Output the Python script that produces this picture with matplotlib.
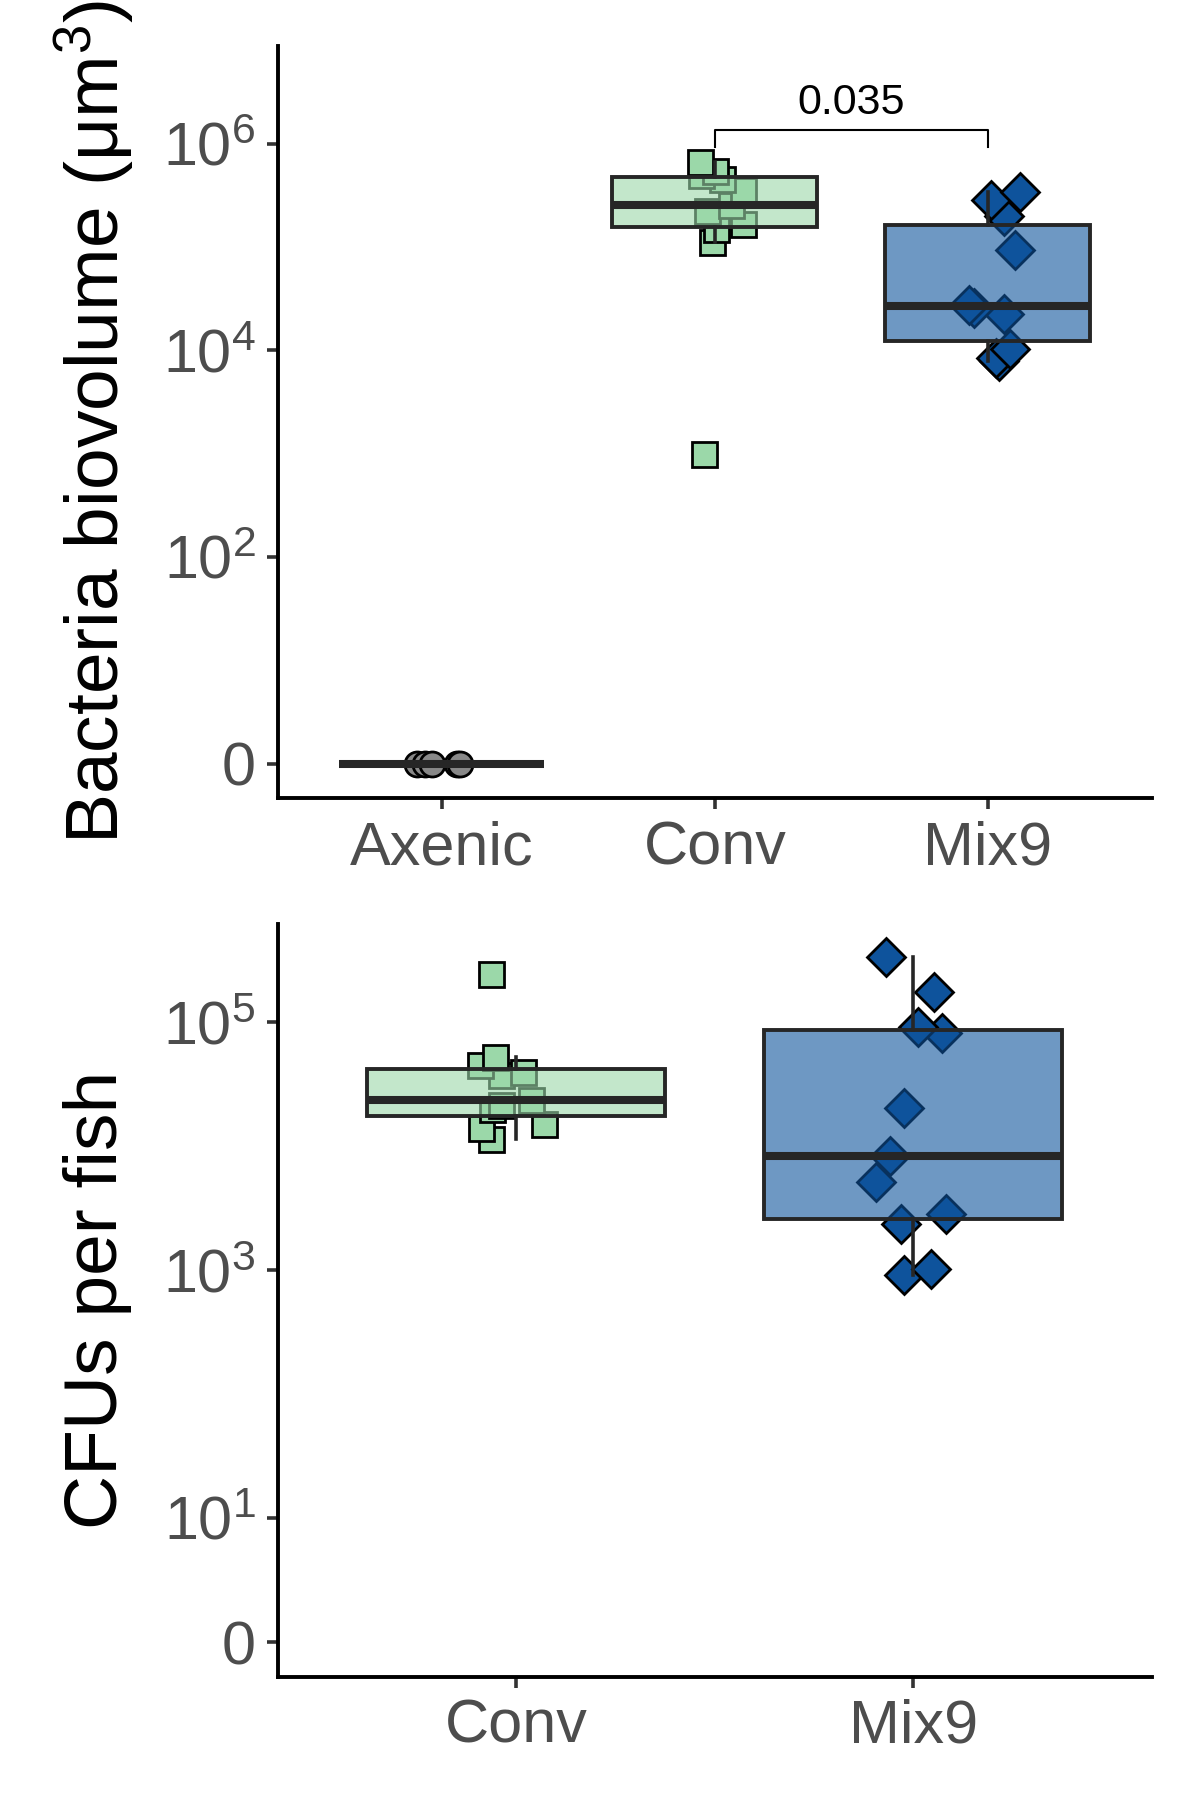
import matplotlib
matplotlib.use("Agg")
import matplotlib.pyplot as plt
import numpy as np
from matplotlib import cbook

plt.rcParams['font.family'] = ['Liberation Sans', 'DejaVu Sans']
plt.rcParams['mathtext.fontset'] = 'custom'
plt.rcParams['mathtext.rm'] = 'Liberation Sans'
plt.rcParams['mathtext.it'] = 'Liberation Sans:italic'

# ---- data ----
top_groups = ["Axenic", "Conv", "Mix9"]
axenic_vol = [0, 0, 0, 0, 0]
axenic_jit = [-0.09, -0.06, -0.035, 0.055, 0.066]
conv_vol = [1000, 112200, 147900, 166000, 223900, 257000, 354800, 457100, 501200, 549500, 660700]
conv_jit = [-0.04, -0.012, 0.006, 0.104, -0.03, 0.06, 0.104, 0.028, -0.05, 0.0, -0.056]
mix9_vol = [7940, 8510, 10200, 22400, 25700, 27500, 93300, 199500, 288400, 338800]
mix9_jit = [0.04, 0.03, 0.08, 0.06, -0.05, -0.07, 0.10, 0.06, 0.01, 0.116]
pval_label = "0.035"
pval_y = 1.37e6
pval_tip = 9.3e5

bot_groups = ["Conv", "Mix9"]
conv_cfu = [11500, 14100, 15100, 20000, 21400, 23400, 37200, 39800, 44700, 52500, 245500]
conv_cfu_jit = [-0.063, -0.09, 0.07, -0.06, -0.038, 0.038, -0.038, 0.018, -0.091, -0.054, -0.063]
mix9_cfu = [912, 1020, 2340, 2820, 5130, 8320, 20400, 81300, 91200, 173800, 335000]
mix9_cfu_jit = [-0.024, 0.045, -0.03, 0.083, -0.095, -0.058, -0.023, 0.071, 0.012, 0.051, -0.068]

grey = "#888888" ; green = "#9BD8A9" ; blue = "#0E539C"


def fwd(x):
    return np.arcsinh(np.asarray(x, dtype=float) / 2) / np.log(10)

def inv(y):
    return 2 * np.sinh(np.asarray(y, dtype=float) * np.log(10))


def box_group(ax, pos, vals, color):
    st = cbook.boxplot_stats(fwd(vals), whis=1.5)[0]
    for k in ["med", "q1", "q3", "whislo", "whishi", "mean"]:
        st[k] = float(inv(st[k]))
    st["fliers"] = []
    ax.bxp([st], positions=[pos], widths=0.75, patch_artist=True, showfliers=False,
           showcaps=False, showmeans=False,
           boxprops=dict(facecolor=matplotlib.colors.to_rgba(color, 0.6), edgecolor="#262626", linewidth=2.8, zorder=3),
           medianprops=dict(color="#262626", linewidth=5.8, solid_capstyle="butt", zorder=4),
           whiskerprops=dict(color="#262626", linewidth=2.6, zorder=3))


def points(ax, pos, vals, jit, color, marker, size):
    ax.plot(pos + np.array(jit), vals, linestyle="none", marker=marker, markersize=size,
            markerfacecolor=color, markeredgecolor="black", markeredgewidth=2, zorder=2)


def style(ax, ticks, labels, groups, ylo, yhi):
    ax.set_yscale("function", functions=(fwd, inv))
    ax.set_ylim(inv(ylo), inv(yhi))
    ax.set_yticks(ticks)
    ax.set_yticklabels(labels)
    ax.set_xticks(range(1, len(groups) + 1))
    ax.set_xticklabels(groups)
    ax.set_xlim(0.4, len(groups) + 0.6)
    ax.minorticks_off()
    for s in ["top", "right"]:
        ax.spines[s].set_visible(False)
    for s in ["left", "bottom"]:
        ax.spines[s].set_linewidth(2.8)
    ax.tick_params(length=8, width=2.6, color="#333333", labelcolor="#4D4D4D", labelsize=44, pad=8)


fig = plt.figure(figsize=(12, 18), dpi=100)
ax1 = fig.add_axes([0.2317, 0.5567, 0.728, 0.4178])
ax2 = fig.add_axes([0.2317, 0.0686, 0.728, 0.418])

# Top panel: biovolume
points(ax1, 1, axenic_vol, axenic_jit, grey, "o", 18)
points(ax1, 2, conv_vol, conv_jit, green, "s", 18)
points(ax1, 3, mix9_vol, mix9_jit, blue, "D", 19)
box_group(ax1, 1, axenic_vol, grey)
box_group(ax1, 2, conv_vol, green)
box_group(ax1, 3, mix9_vol, blue)
ax1.plot([2, 2, 3, 3], [pval_tip, pval_y, pval_y, pval_tip], color="black", linewidth=1.5)
ax1.annotate(pval_label, xy=(2.5, pval_y), xytext=(0, 5), textcoords="offset points",
             ha="center", va="bottom", fontsize=31, color="black")
style(ax1, [0, 1e2, 1e4, 1e6], ["0", r"$10^{2}$", r"$10^{4}$", r"$10^{6}$"], top_groups, -0.333, 6.947)
ax1.set_ylabel("Bacteria biovolume (μm$^{3}$)", fontsize=54, color="black")
ax1.yaxis.set_label_coords(-0.162, 0.5)

# Bottom panel: CFUs
points(ax2, 1, conv_cfu, conv_cfu_jit, green, "s", 18)
points(ax2, 2, mix9_cfu, mix9_cfu_jit, blue, "D", 19)
box_group(ax2, 1, conv_cfu, green)
box_group(ax2, 2, mix9_cfu, blue)
style(ax2, [0, 10, 1e3, 1e5], ["0", r"$10^{1}$", r"$10^{3}$", r"$10^{5}$"], bot_groups, -0.278, 5.79)
ax2.set_ylabel("CFUs per fish", fontsize=54, color="black")
ax2.yaxis.set_label_coords(-0.167, 0.5)

plt.savefig("out.png", dpi=100)
plt.close()
